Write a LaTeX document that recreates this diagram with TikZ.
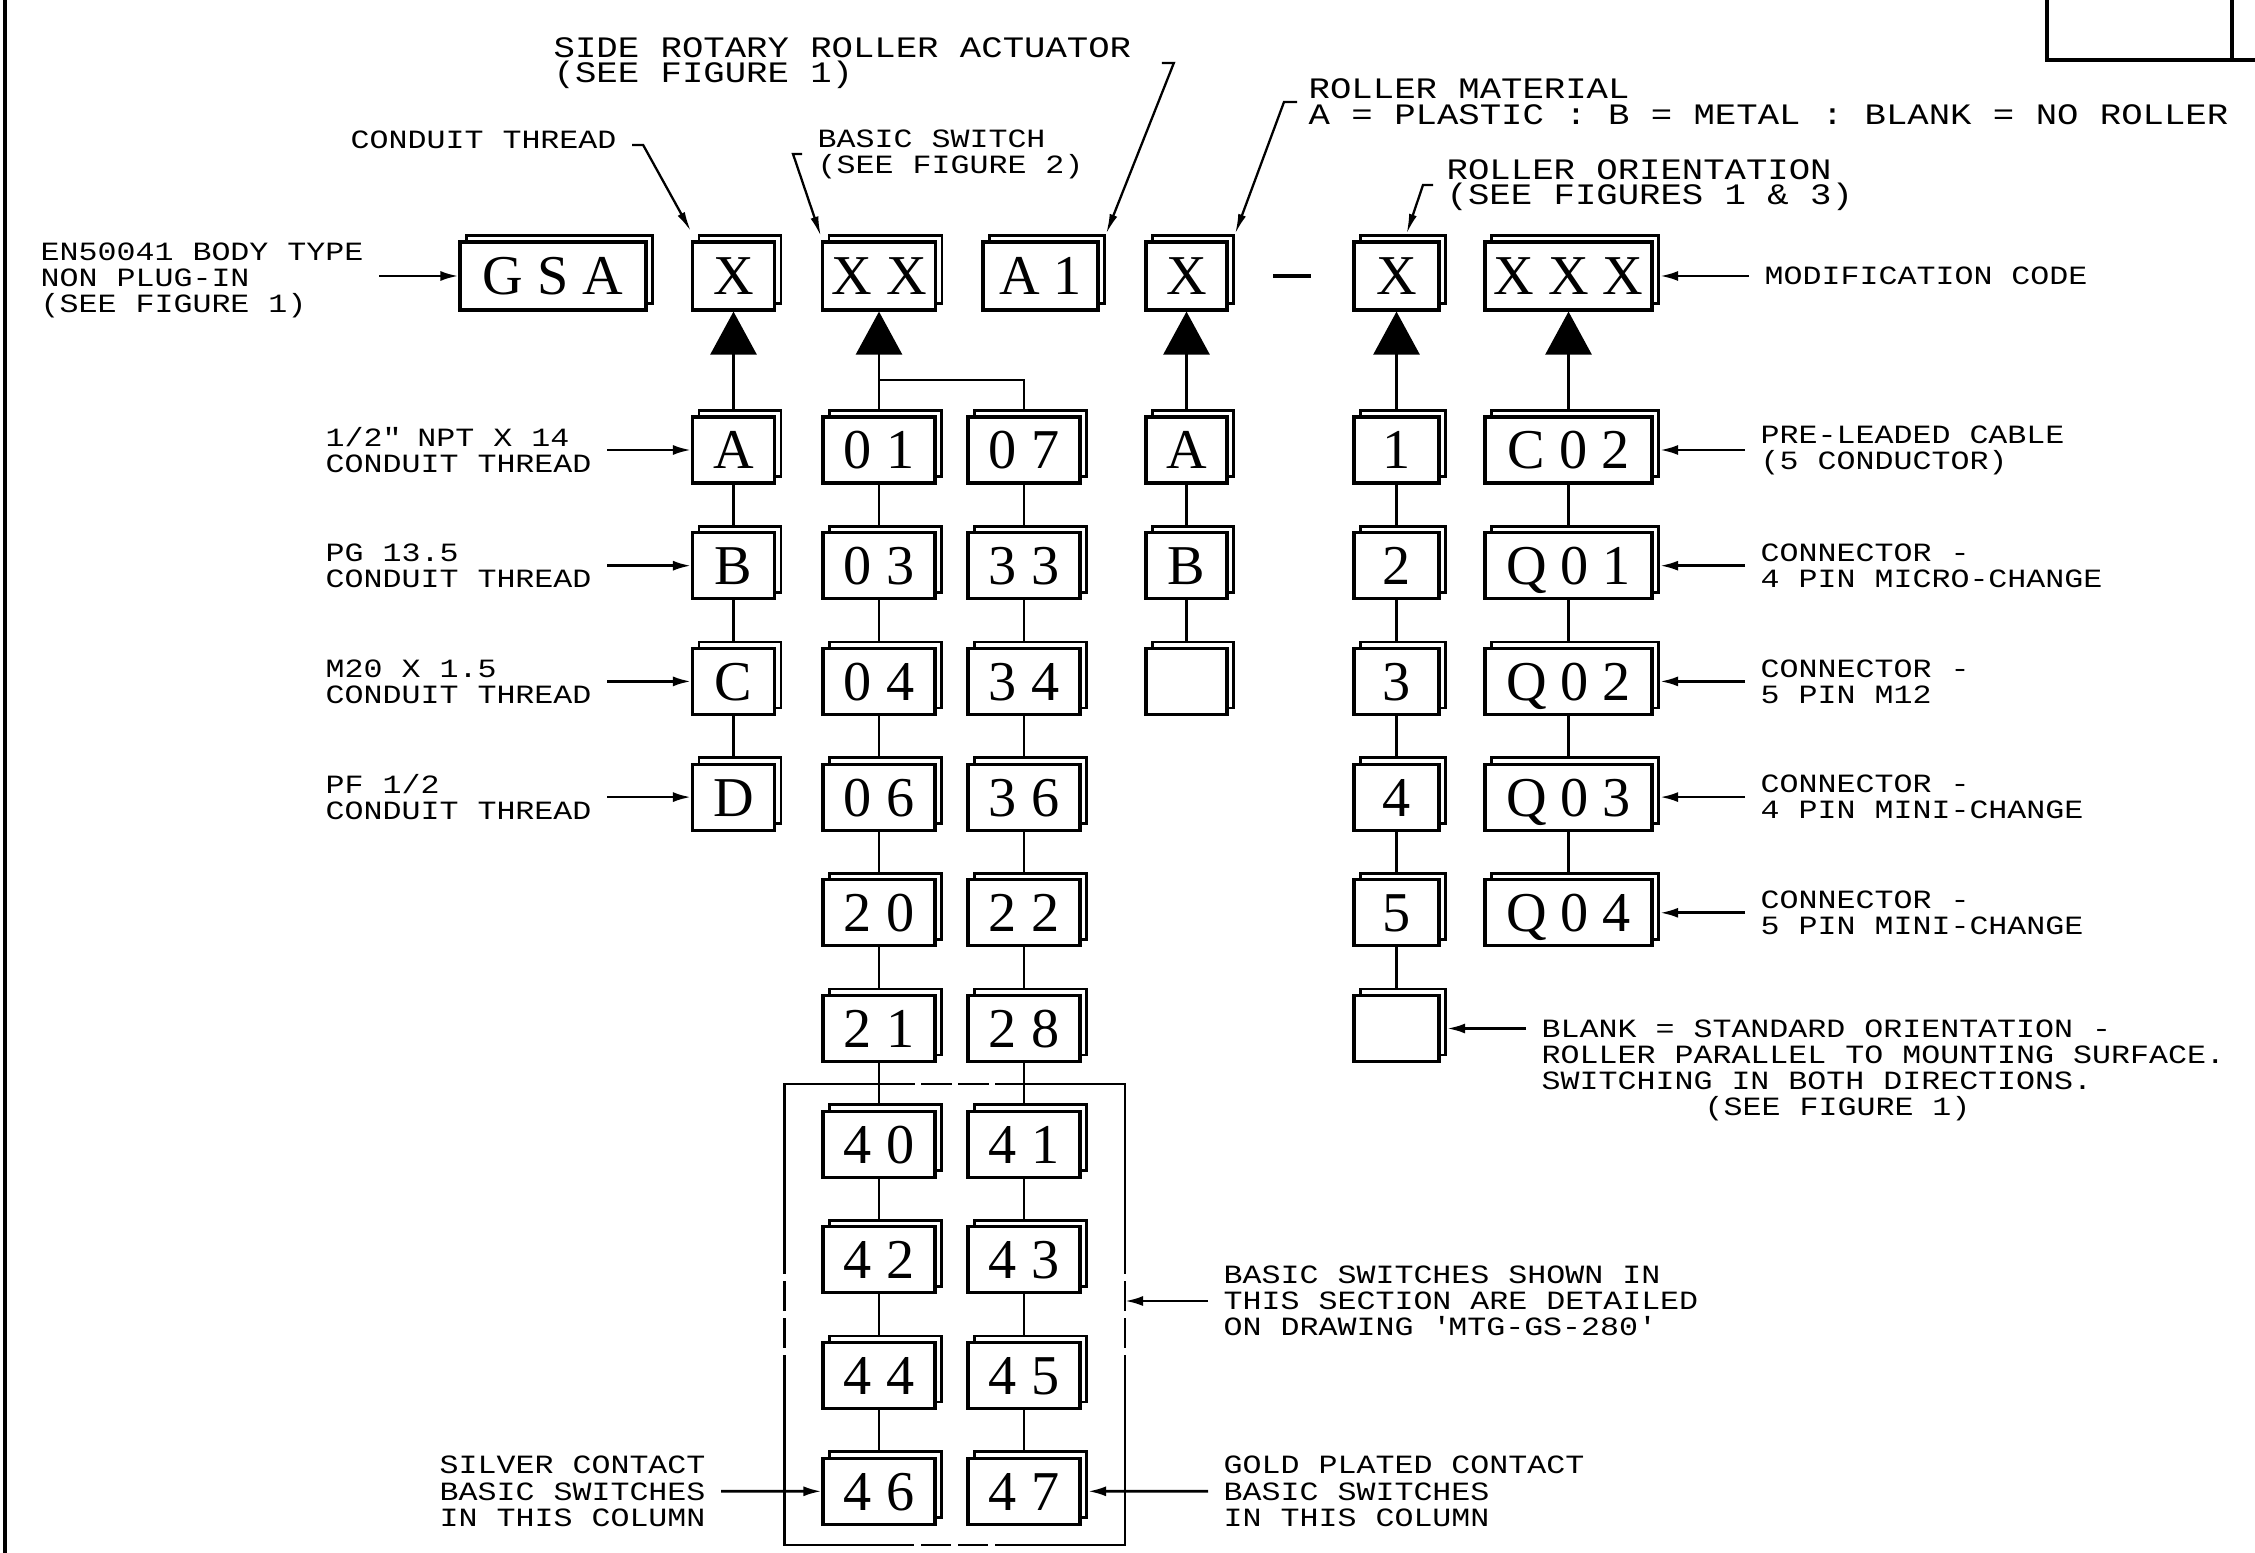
\documentclass[tikz,border=0pt]{standalone}
\usepackage{fontspec}
\setmainfont{Liberation Mono}[FakeStretch=1.2]
\newfontfamily\boxfont{Liberation Serif}
\usetikzlibrary{arrows.meta,shadows,backgrounds}

\newcommand\cadsmall{\fontsize{7.5pt}{7.4pt}\selectfont}
\newcommand\cadlarge{\fontsize{8.45pt}{7.3pt}\selectfont}

\tikzset{
  codebox/.style={draw, fill=white, line width=0.9pt, inner sep=0pt,
    minimum height=0.66cm, text height=10.8pt, text depth=0pt,
    font=\boxfont\fontsize{16pt}{16pt}\selectfont,
    general shadow={draw=black, fill=white, line width=0.75pt,
      shadow xshift=0.065cm, shadow yshift=0.065cm}},
  headbox/.style={codebox, minimum height=0.68cm},
  cadnote/.style={align=left, inner xsep=0.15cm, inner ysep=0pt, font=\cadsmall},
  cadbignote/.style={cadnote, font=\cadlarge},
  link/.style={line width=0.75pt},
  bigtip/.style={link, -{Triangle[length=0.43cm, width=0.46cm]}},
  labelarrow/.style={link, -{Latex[length=0.18cm, width=0.1cm]}},
  leader/.style={line width=0.65pt, -{Latex[length=0.2cm, width=0.08cm]}},
  sectionedge/.style={line width=0.75pt, line cap=rect,
    dash pattern=on #1 off 0.09cm on 0.28cm off 0.09cm on 0.28cm off 0.09cm on 3cm},
}

\begin{document}
\begin{tikzpicture}
  \useasboundingbox (0,0) rectangle (22.55,15.52);

  % Cadre du plan
  \draw[line width=1.1pt] (0.05,-0.1) -- (0.05,15.62);
  \draw[line width=0.9pt] (20.47,15.62) -- (20.47,14.92) -- (22.65,14.92);
  \draw[line width=0.9pt] (22.32,15.62) -- (22.32,14.92);

  % Code de commande
  \node[headbox, minimum width=1.86cm] (body) at (5.53,12.76) {G S A};
  \node[headbox, minimum width=0.82cm] (tX) at (7.335,12.76) {X};
  \node[headbox, minimum width=1.13cm] (tXX) at (8.79,12.76) {X X};
  \node[headbox, minimum width=1.15cm] (tA1) at (10.405,12.76) {A 1};
  \node[headbox, minimum width=0.81cm] (tM) at (11.865,12.76) {X};
  \draw[line width=0.9pt] (12.73,12.76) -- (13.11,12.76);
  \node[headbox, minimum width=0.85cm] (tO) at (13.965,12.76) {X};
  \node[headbox, minimum width=1.67cm] (tXXX) at (15.685,12.76) {X X X};

  % Colonnes des options
  \foreach \lab [count=\i] in {A,B,C,D}
    \node[codebox, minimum width=0.82cm] (th\i) at (7.335,{11.02-1.157*(\i-1)}) {\lab};
  \foreach \lab [count=\i] in {0 1,0 3,0 4,0 6,2 0,2 1,4 0,4 2,4 4,4 6}
    \node[codebox, minimum width=1.12cm] (swa\i) at (8.79,{11.02-1.157*(\i-1)}) {\lab};
  \foreach \lab [count=\i] in {0 7,3 3,3 4,3 6,2 2,2 8,4 1,4 3,4 5,4 7}
    \node[codebox, minimum width=1.12cm] (swb\i) at (10.24,{11.02-1.157*(\i-1)}) {\lab};
  \foreach \lab [count=\i] in {A,B,{}}
    \node[codebox, minimum width=0.81cm] (mat\i) at (11.865,{11.02-1.157*(\i-1)}) {\lab};
  \foreach \lab [count=\i] in {1,2,3,4,5,{}}
    \node[codebox, minimum width=0.85cm] (ori\i) at (13.965,{11.02-1.157*(\i-1)}) {\lab};
  \foreach \lab [count=\i] in {C 0 2,Q 0 1,Q 0 2,Q 0 3,Q 0 4}
    \node[codebox, minimum width=1.67cm] (mod\i) at (15.685,{11.02-1.157*(\i-1)}) {\lab};

  % Liaisons verticales, sous les cases
  \coordinate (fork) at (8.79,11.72);
  \begin{scope}[on background layer]
    \foreach \i [remember=\i as \k (initially 1)] in {2,...,4} \draw[link] (th\k) -- (th\i);
    \foreach \i [remember=\i as \k (initially 1)] in {2,...,10} \draw[link] (swa\k) -- (swa\i);
    \foreach \i [remember=\i as \k (initially 1)] in {2,...,10} \draw[link] (swb\k) -- (swb\i);
    \foreach \i [remember=\i as \k (initially 1)] in {2,3} \draw[link] (mat\k) -- (mat\i);
    \foreach \i [remember=\i as \k (initially 1)] in {2,...,6} \draw[link] (ori\k) -- (ori\i);
    \foreach \i [remember=\i as \k (initially 1)] in {2,...,5} \draw[link] (mod\k) -- (mod\i);
    \draw[bigtip] (th1) -- (tX.south);
    \draw[bigtip] (swa1) -- (tXX.south);
    \draw[link] (swb1) |- (fork);
    \draw[bigtip] (mat1) -- (tM.south);
    \draw[bigtip] (ori1) -- (tO.south);
    \draw[bigtip] (mod1) -- (tXXX.south);
  \end{scope}

  % Cadre des contacts detailles ailleurs
  \coordinate (secNW) at (7.845,4.68);
  \coordinate (secSE) at (11.25,0.07);
  \draw[sectionedge=1.29cm] (secNW) -- (secNW -| secSE);
  \draw[sectionedge=1.89cm] (secNW -| secSE) -- (secSE);
  \draw[sectionedge=1.29cm] (secSE) -- (secSE -| secNW);
  \draw[sectionedge=1.89cm] (secSE -| secNW) -- (secNW);

  % Legendes du haut
  \node[cadbignote, anchor=west] (lside) at (5.38,14.89) {SIDE ROTARY ROLLER ACTUATOR\\(SEE FIGURE 1)};
  \draw[leader] ([xshift=0.15cm]lside.east) -- ++(0.12,0) -- ([shift={(0.065cm,0.065cm)}]tA1.north east);
  \node[cadnote, anchor=west] (lcond) at (3.35,14.12) {CONDUIT THREAD};
  \draw[leader] ([yshift=-0.05cm]lcond.east) -- ++(0.11,0) -- ([yshift=0.09cm]tX.north west);
  \node[cadnote, anchor=west] (lbasic) at (8.02,13.98) {BASIC SWITCH\\(SEE FIGURE 2)};
  \draw[leader] (lbasic.west) -- ++(-0.09,0) -- ([yshift=0.04cm]tXX.north west);
  \node[cadbignote, anchor=west] (lmat) at (12.93,14.5) {ROLLER MATERIAL\\A = PLASTIC : B = METAL : BLANK = NO ROLLER};
  \draw[leader] ([xshift=0.04cm]lmat.west) -- ++(-0.13,0) -- ([shift={(0.065cm,0.065cm)}]tM.north east);
  \node[cadbignote, anchor=west] (lori) at (14.31,13.67) {ROLLER ORIENTATION\\(SEE FIGURES 1 \& 3)};
  \draw[leader] ([xshift=0.02cm]lori.west) -- ++(-0.1,0) -- ([shift={(0.1cm,0.065cm)}]tO.north);
  \node[cadnote, anchor=west] (lbody) at (0.25,12.72) {EN50041 BODY TYPE\\NON PLUG-IN\\(SEE FIGURE 1)};
  \draw[labelarrow] (lbody.east |- body) -- (body.west);
  \node[cadnote, anchor=west] (lmodc) at (17.49,12.76) {MODIFICATION CODE};
  \draw[labelarrow] (lmodc.west) -- ([xshift=0.065cm]tXXX.east);

  % Filetages
  \foreach \txt [count=\i] in {{1/2\textquotedbl{} NPT X 14},{PG 13.5},{M20 X 1.5},{PF 1/2}} {
    \node[cadnote, anchor=west] (lth\i) at (3.10,{11.02-1.157*(\i-1)}) {\txt\\CONDUIT THREAD};
    \draw[labelarrow] (lth\i.east) -- (th\i.west);
  }

  % Connexions
  \foreach \txt [count=\i] in {{PRE-LEADED CABLE\\(5 CONDUCTOR)},{CONNECTOR -\\4 PIN MICRO-CHANGE},
      {CONNECTOR -\\5 PIN M12},{CONNECTOR -\\4 PIN MINI-CHANGE},{CONNECTOR -\\5 PIN MINI-CHANGE}} {
    \node[cadnote, anchor=west] (lmod\i) at (17.45,{11.02-1.157*(\i-1)}) {\txt};
    \draw[labelarrow] (lmod\i.west) -- ([xshift=0.065cm]mod\i.east);
  }

  % Orientation standard
  \node[cadnote, anchor=north west] (lblank) at (15.26,5.33) {BLANK = STANDARD ORIENTATION -\\ROLLER PARALLEL TO MOUNTING SURFACE.\\SWITCHING IN BOTH DIRECTIONS.\\\hspace*{1.63cm}(SEE FIGURE 1)};
  \draw[labelarrow] (lblank.west |- ori6) -- ([xshift=0.065cm]ori6.east);

  % Contacts
  \node[cadnote, anchor=west] (ldetail) at (12.08,2.51) {BASIC SWITCHES SHOWN IN\\THIS SECTION ARE DETAILED\\ON DRAWING \textquotesingle MTG-GS-280\textquotesingle};
  \draw[labelarrow] (ldetail.west) -- (ldetail.west -| secSE);
  \node[cadnote, anchor=west] (lsilver) at (4.24,0.607) {SILVER CONTACT\\BASIC SWITCHES\\IN THIS COLUMN};
  \draw[labelarrow] (lsilver.east) -- (swa10.west);
  \node[cadnote, anchor=west] (lgold) at (12.08,0.607) {GOLD PLATED CONTACT\\BASIC SWITCHES\\IN THIS COLUMN};
  \draw[labelarrow] (lgold.west) -- ([xshift=0.065cm]swb10.east);
\end{tikzpicture}
\end{document}
